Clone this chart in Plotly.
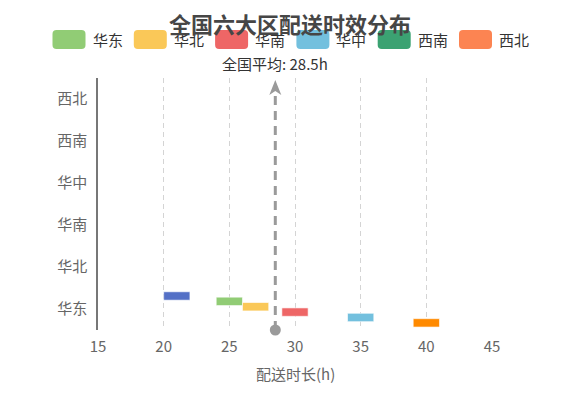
import plotly.graph_objects as go

# ---- data ----
regions = ["华东", "华北", "华南", "华中", "西南", "西北"]          # y categories (bottom -> top)
legend_names = ["华东", "华北", "华南", "华中", "西南", "西北"]
legend_colors = ["#91cc75", "#fac858", "#ee6666", "#73c0de", "#3ba272", "#fc8452"]

series_names = ["基准", "华东", "华北", "华南", "华中", "西北"]
series_start = [20, 24, 26, 29, 34, 39]
series_end = [22, 26, 28, 31, 36, 41]
series_colors = ["#5470c6", "#91cc75", "#fac858", "#ee6666", "#73c0de", "#ff8a00"]
series_category = ["华东"] * 6

avg_hours = 28.5
x_ticks = [15, 20, 25, 30, 35, 40, 45]

FONT = "Noto Sans CJK SC, Noto Sans, sans-serif"
OFF = 8  # page body margin
W, H = 580 - OFF, 395 - OFF
L, T = 98 - OFF, 78 - OFF
R, B = W - (492 - OFF), H - (330 - OFF)
PW, PH = W - L - R, H - T - B


def px_x(px):
    return (px - OFF - L) / PW


def px_y(py):
    return (H - B - (py - OFF)) / PH


fig = go.Figure()

bar_w = 0.2
step = 0.128
top_center = 0.31
for i, name in enumerate(series_names):
    center = top_center - step * i
    fig.add_trace(go.Bar(
        name=name,
        y=[series_category[i]],
        x=[series_end[i] - series_start[i]],
        base=[series_start[i]],
        orientation="h",
        width=bar_w,
        offset=center - bar_w / 2,
        marker=dict(color=series_colors[i], line=dict(color="rgba(255,255,255,0.6)", width=1)),
        showlegend=False,
        hoverinfo="skip",
    ))

shapes = []
annotations = []

# custom legend
leg_x0 = 69
leg_step = 81.3
leg_y = 39.5
rw, rh, rr = 33, 19, 4
hw, hh = rw / 2, rh / 2
rect_path = (f"M {-hw+rr},{-hh} L {hw-rr},{-hh} Q {hw},{-hh} {hw},{-hh+rr} L {hw},{hh-rr} "
             f"Q {hw},{hh} {hw-rr},{hh} L {-hw+rr},{hh} Q {-hw},{hh} {-hw},{hh-rr} "
             f"L {-hw},{-hh+rr} Q {-hw},{-hh} {-hw+rr},{-hh} Z")
for i, (nm, col) in enumerate(zip(legend_names, legend_colors)):
    cx = leg_x0 + leg_step * i
    shapes.append(dict(type="path", xref="paper", yref="paper", xsizemode="pixel", ysizemode="pixel",
                       xanchor=px_x(cx), yanchor=px_y(leg_y), path=rect_path,
                       fillcolor=col, line=dict(width=0), layer="above"))
    annotations.append(dict(text=nm, xref="paper", yref="paper", x=px_x(cx + hw + 5), y=px_y(leg_y),
                            xanchor="left", yanchor="middle", showarrow=False,
                            font=dict(family=FONT, size=15, color="#333333")))

# average line (dashed shaft, arrow head, dot)
shapes.append(dict(type="line", xref="x", yref="paper", x0=avg_hours, x1=avg_hours,
                   y0=0, y1=px_y(92), line=dict(color="#9a9a9a", width=3, dash="9px,6px"), layer="above"))
shapes.append(dict(type="path", xref="x", yref="paper", xsizemode="pixel", ysizemode="pixel",
                   xanchor=avg_hours, yanchor=px_y(80),
                   path="M 0,0 L -6,-15 L 0,-11 L 6,-15 Z",
                   fillcolor="#9a9a9a", line=dict(width=0), layer="above"))
shapes.append(dict(type="circle", xref="x", yref="paper", xsizemode="pixel", ysizemode="pixel",
                   xanchor=avg_hours, yanchor=0, x0=-5.5, x1=5.5, y0=-5.5, y1=5.5,
                   fillcolor="#9a9a9a", line=dict(width=0), layer="above"))

annotations.append(dict(text=f"全国平均: {avg_hours}h", xref="x", yref="paper", x=avg_hours, y=px_y(63),
                        xanchor="center", yanchor="middle", showarrow=False,
                        font=dict(family=FONT, size=15, color="#333333")))

# axis title
annotations.append(dict(text="配送时长(h)", xref="paper", yref="paper", x=0.5, y=px_y(373),
                        xanchor="center", yanchor="middle", showarrow=False,
                        font=dict(family=FONT, size=15, color="#666666")))

# chart title (on top)
annotations.append(dict(text="<b>全国六大区配送时效分布</b>", xref="paper", yref="paper", x=px_x(290), y=px_y(23),
                        xanchor="center", yanchor="middle", showarrow=False,
                        font=dict(family=FONT, size=22, color="#464646")))

fig.update_layout(
    width=W, height=H,
    margin=dict(l=L, r=R, t=T, b=B, autoexpand=False),
    paper_bgcolor="white", plot_bgcolor="white",
    barmode="overlay",
    shapes=shapes, annotations=annotations,
    font=dict(family=FONT, size=15, color="#666666"),
    xaxis=dict(range=[15, 45], tickvals=x_ticks, showgrid=True, gridcolor="#d4d4d4", griddash="5px,4px",
               gridwidth=1, zeroline=False, showline=False, ticks="outside", ticklen=3,
               tickcolor="rgba(0,0,0,0)", tickfont=dict(size=15, color="#666666")),
    yaxis=dict(type="category", categoryorder="array", categoryarray=regions, range=[-0.5, 5.5],
               showgrid=False, zeroline=False, showline=True, linecolor="#777777", linewidth=1.5,
               ticks="outside", ticklen=6, tickcolor="rgba(0,0,0,0)",
               tickfont=dict(size=15, color="#666666")),
    showlegend=False,
)

fig.write_html("out.html")
